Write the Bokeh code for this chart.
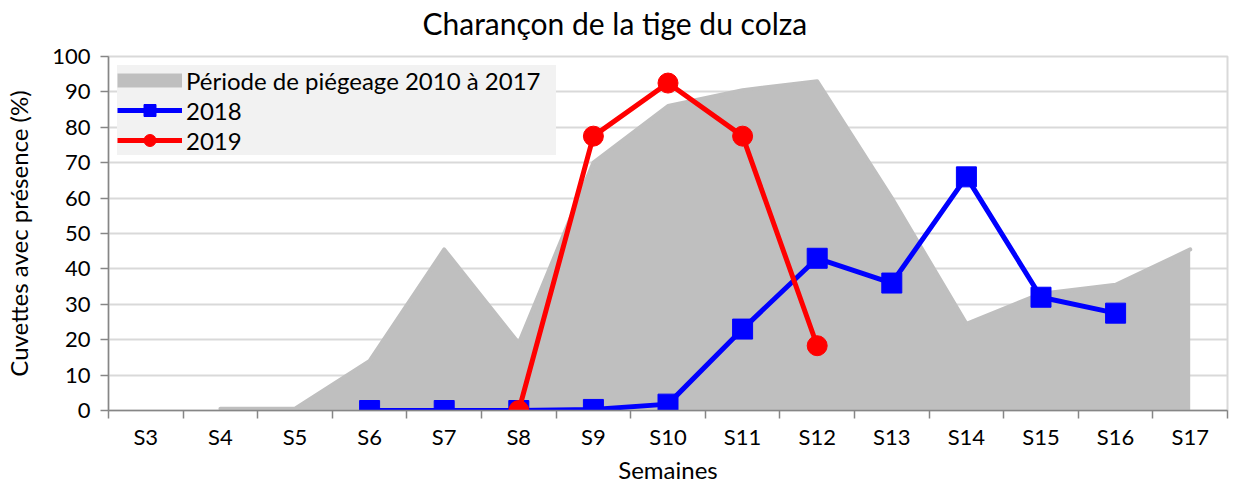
import math
from bokeh.plotting import figure
from bokeh.models import Range1d, FixedTicker, Legend, LegendItem, ColumnDataSource, Title
from bokeh.embed import file_html
from bokeh.resources import INLINE

categories = ["S3", "S4", "S5", "S6", "S7", "S8", "S9", "S10",
              "S11", "S12", "S13", "S14", "S15", "S16", "S17"]
area_2010_2017 = [None, 0.5, 0.5, 14, 45.5, 19, 70, 86, 90.5, 93, 60, 24.5, 33, 35.5, 45.5]
serie_2018 = [None, None, None, 0, 0, 0, 0.3, 1.8, 23, 43, 36, 66, 32, 27.5, None]
serie_2019 = [None, None, None, None, None, 0, 77.5, 92.5, 77.5, 18.3, None, None, None, None, None]
y_ticks = [0, 10, 20, 30, 40, 50, 60, 70, 80, 90, 100]

FONT = "Lato"
GREY = "#bfbfbf"
AXIS = "#868686"

xs = [i + 0.5 for i in range(len(categories))]


def pts(vals):
    x = [xx for xx, v in zip(xs, vals) if v is not None]
    y = [v for v in vals if v is not None]
    return ColumnDataSource(dict(x=x, y=y))


p = figure(width=1229, height=483, output_backend="svg", toolbar_location=None, title=None,
           x_range=Range1d(0, len(categories)), y_range=Range1d(0, 100),
           min_border_left=108, min_border_right=2, min_border_top=55, min_border_bottom=0)

# spacer between frame and title, then the title itself
p.add_layout(Title(text=" ", text_font_size="1px", standoff=11), "above")
p.add_layout(Title(text="Charançon de la tige du colza", text_font=FONT, text_font_size="30px",
                   text_font_style="normal", text_color="#000000", align="left", offset=314,
                   vertical_align="bottom", standoff=4), "above")

p.outline_line_color = "#d9d9d9"
p.outline_line_width = 2
p.xgrid.visible = False
p.ygrid.grid_line_color = "#d9d9d9"
p.ygrid.grid_line_width = 2

# y axis
p.yaxis.ticker = FixedTicker(ticks=y_ticks)
p.yaxis.axis_line_color = AXIS
p.yaxis.axis_line_width = 1.5
p.yaxis.major_tick_line_color = AXIS
p.yaxis.major_tick_line_width = 1.5
p.yaxis.major_tick_out = 8
p.yaxis.major_tick_in = 0
p.yaxis.minor_tick_line_color = None
p.yaxis.major_label_text_font = FONT
p.yaxis.major_label_text_font_size = "22px"
p.yaxis.major_label_text_color = "#000000"
p.yaxis.major_label_standoff = 10
p.yaxis.axis_label = "Cuvettes avec présence (%)"
p.yaxis.axis_label_text_font = FONT
p.yaxis.axis_label_text_font_size = "24px"
p.yaxis.axis_label_text_font_style = "normal"
p.yaxis.axis_label_text_color = "#000000"
p.yaxis.axis_label_standoff = 16

# x axis
p.xaxis.ticker = FixedTicker(ticks=xs, minor_ticks=list(range(len(categories) + 1)))
p.xaxis.major_label_overrides = {x: c for x, c in zip(xs, categories)}
p.xaxis.axis_line_color = AXIS
p.xaxis.axis_line_width = 1.5
p.xaxis.major_tick_line_color = None
p.xaxis.major_tick_out = 0
p.xaxis.major_tick_in = 0
p.xaxis.minor_tick_line_color = AXIS
p.xaxis.minor_tick_line_width = 1.5
p.xaxis.minor_tick_out = 8
p.xaxis.minor_tick_in = 0
p.xaxis.major_label_text_font = FONT
p.xaxis.major_label_text_font_size = "22px"
p.xaxis.major_label_text_color = "#000000"
p.xaxis.major_label_standoff = 4

p.add_layout(Title(text="Semaines", align="center", text_font=FONT, text_font_size="24px",
                   text_font_style="normal", text_color="#000000", standoff=0,
                   text_line_height=1.0, vertical_align="bottom"), "below")

# area 2010-2017
src_area = pts(area_2010_2017)
p.varea(x="x", y1=0, y2="y", source=src_area, fill_color=GREY)
p.line(x="x", y="y", source=src_area, line_color=GREY, line_width=4,
       line_cap="round", line_join="round")
area_key = p.line(x=[math.nan], y=[math.nan], line_color=GREY, line_width=14, line_cap="butt")

src18 = pts(serie_2018)
l18 = p.line(x="x", y="y", source=src18, line_color="#0000ff", line_width=5)
m18 = p.scatter(x="x", y="y", source=src18, marker="square", size=20,
                fill_color="#0000ff", line_color="#0000ff")

src19 = pts(serie_2019)
l19 = p.line(x="x", y="y", source=src19, line_color="#ff0000", line_width=5)
m19 = p.scatter(x="x", y="y", source=src19, marker="circle", size=20,
                fill_color="#ff0000", line_color="#ff0000")

legend = Legend(items=[
    LegendItem(label="Période de piégeage 2010 à 2017", renderers=[area_key]),
    LegendItem(label="2018", renderers=[l18, m18]),
    LegendItem(label="2019", renderers=[l19, m19]),
], location="top_left")
legend.margin = 9
legend.padding = 1
legend.spacing = 0
legend.glyph_width = 65
legend.glyph_height = 30
legend.label_height = 30
legend.label_width = 370
legend.label_standoff = 4
legend.label_text_font = FONT
legend.label_text_font_size = "24px"
legend.label_text_color = "#000000"
legend.background_fill_color = "#f2f2f2"
legend.background_fill_alpha = 1
legend.border_line_color = None
p.add_layout(legend)

open("out.html", "w").write(file_html(p, INLINE))
